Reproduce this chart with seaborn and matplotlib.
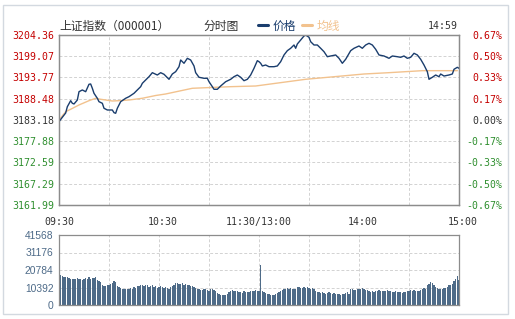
import matplotlib
matplotlib.use("Agg")
import matplotlib.pyplot as plt
import seaborn as sns
import pandas as pd
from matplotlib.patches import Rectangle
from matplotlib.transforms import ScaledTranslation

# ---------------- data ----------------
price_minute = [0, 2, 4, 5, 7, 8, 9, 11, 12, 14, 16, 18, 19, 20, 21, 23, 24, 26, 27, 29,
                32, 33, 34, 35, 37, 40, 42, 45, 47, 49, 50, 52, 54, 56, 59, 61, 63, 66, 68, 70,
                72, 73, 75, 77, 79, 81, 82, 84, 87, 89, 90, 92, 93, 95, 97, 100, 103, 105, 107, 109,
                111, 113, 115, 117, 119, 120, 121, 122, 124, 126, 129, 131, 133, 135, 137, 139, 141, 142, 143, 145,
                147, 148, 150, 151, 153, 155, 157, 159, 161, 163, 166, 168, 170, 172, 175, 177, 180, 182, 184, 186,
                188, 190, 192, 195, 198, 200, 203, 205, 207, 209, 211, 213, 215, 217, 219, 221, 222, 224, 226, 228,
                229, 231, 234, 236, 237, 239, 240]
price = [3182.76, 3183.85, 3184.92, 3186.49, 3187.99, 3187.34, 3187.17, 3188.16, 3190.23, 3190.66,
         3190.23, 3192.08, 3192.15, 3191.08, 3189.83, 3188.59, 3187.74, 3187.34, 3186.10, 3185.67,
         3185.67, 3185.00, 3184.85, 3186.10, 3187.74, 3188.59, 3188.99, 3189.83, 3190.66, 3191.48,
         3192.32, 3193.15, 3193.97, 3194.97, 3194.39, 3194.97, 3194.57, 3193.32, 3194.64, 3195.22,
         3196.46, 3198.13, 3197.31, 3198.55, 3198.13, 3196.64, 3194.97, 3193.82, 3193.57, 3193.57,
         3192.72, 3191.48, 3190.83, 3190.83, 3191.65, 3192.72, 3193.32, 3193.97, 3194.39, 3193.82,
         3192.97, 3193.32, 3194.39, 3196.06, 3197.96, 3197.71, 3197.31, 3196.64, 3196.88, 3196.46,
         3196.46, 3196.64, 3197.71, 3199.38, 3200.45, 3201.05, 3201.87, 3201.05, 3202.12, 3203.11,
         3204.11, 3204.36, 3203.79, 3202.69, 3201.87, 3201.87, 3201.05, 3200.20, 3198.95, 3199.13,
         3199.38, 3198.55, 3197.31, 3198.31, 3200.45, 3201.05, 3201.62, 3201.05, 3201.87, 3202.29,
         3201.87, 3200.80, 3199.38, 3199.13, 3198.55, 3199.13, 3198.95, 3198.80, 3199.13, 3198.55,
         3198.80, 3199.80, 3199.38, 3198.31, 3196.88, 3195.22, 3193.32, 3193.82, 3194.39, 3193.97,
         3194.64, 3194.14, 3194.39, 3194.64, 3195.81, 3196.31, 3196.06]

avg_minute = [0, 4, 7, 12, 18, 22, 25, 28, 32, 36, 42, 50, 58, 64, 80, 103, 118, 148, 183, 198, 218, 239]
avg_price = [3183.18, 3185.25, 3185.85, 3186.92, 3187.99, 3188.59, 3188.34, 3188.16, 3187.91, 3187.99,
             3188.16, 3188.59, 3189.28, 3189.66, 3191.08, 3191.48, 3191.65, 3193.32, 3194.64, 3194.97,
             3195.47, 3195.47]

volume = [18000, 17200, 16400, 16800, 16600, 16000, 15600, 15600, 15200, 15600,
          16000, 15200, 15600, 14700, 15600, 16000, 15600, 16400, 15200, 16200,
          16000, 16400, 15000, 14000,
          13700, 11700, 11300, 11300, 12100, 12100, 12700, 13300, 14100, 13700,
          11300, 10700, 10100, 9700, 9300, 9700, 9300, 9700, 10100, 9700, 10700, 10100, 11300, 11300,
          11700, 12100, 11300, 11700, 12100, 10700, 11300, 11700, 10700, 11300,
          10100, 10700, 11300, 10700, 10100, 10500, 10100, 9700, 10700, 11300,
          12100, 13300, 13300, 12700, 12700, 13300, 12100, 12700, 11700, 11700, 11300, 11300, 10500, 10100,
          9700, 9300, 8700, 8700, 9300, 9700, 8700, 8100, 9700, 9300, 8700, 8100,
          7300, 6700, 6100, 6100, 6100, 6100, 6700, 7700, 8100, 8700, 8500, 8100,
          8100, 7700, 7700, 7300, 8100, 7700, 7700, 7700, 8100, 8100, 8500, 8700, 8100, 8100,
          23800,
          8100, 7700, 7300, 6700, 6700, 6100, 5700, 6100, 6700, 7300, 7700,
          8100, 8700, 9300, 9700, 10100, 9700, 10100, 9700, 9300, 9300, 10500, 10700, 10100, 10100,
          10700, 10100, 10700, 10100, 9700, 10100,
          9300, 8100, 7700, 7700, 7300, 7700, 7300, 6700, 7300, 7700, 7300, 6700, 7300, 6700, 6700,
          6500, 6100, 6700, 6500, 7300, 7700, 6700,
          9700, 9300, 8700, 8700, 9300, 9700, 9700, 10100, 9300, 8700, 8700, 8100, 7700, 8100, 7700, 8500,
          8100, 8700, 8500, 8100, 8500, 8100, 8700, 8100, 8100, 7700, 7700, 8100, 7700, 7700, 7700,
          7300, 7700, 7700, 8100, 8100, 8700, 8100,
          8700, 8100, 8500, 8100, 8700, 9300, 10100, 9700,
          11700, 12700, 13700, 13300, 11700, 10700, 10100, 9300,
          9700, 9700, 10100, 10100, 10700, 11700, 12100, 12700, 14100, 15600, 17200, 14700]
vol_minute = list(range(1, len(volume) + 1))

price_ticks = [3204.36, 3199.07, 3193.77, 3188.48, 3183.18, 3177.88, 3172.59, 3167.29, 3161.99]
price_labels = ["3204.36", "3199.07", "3193.77", "3188.48", "3183.18", "3177.88", "3172.59", "3167.29", "3161.99"]
pct_labels = ["0.67%", "0.50%", "0.33%", "0.17%", "0.00%", "-0.17%", "-0.33%", "-0.50%", "-0.67%"]
time_ticks = [0, 60, 120, 180, 240]
time_labels = ["09:30", "10:30", "11:30/13:00", "14:00", "15:00"]
vol_ticks = [0, 10392, 20784, 31176, 41568]
vol_labels = ["0", "10392", "20784", "31176", "41568"]

# ---------------- style ----------------
sns.set_theme(style="white")
plt.rcParams["font.family"] = ["Noto Sans CJK SC", "DejaVu Sans"]

RED = "#c40000"
GREEN = "#2f8f2f"
DARK = "#333333"
PRICE_C = "#1a3d6d"
AVG_C = "#f2c28e"
VOL_C = "#4e6b88"
SPINE_C = "#8c8c8c"
GRID_C = "#d2d2d2"
MONO = ["DejaVu Sans Mono"]
CJK = ["Noto Sans CJK SC", "DejaVu Sans"]

fig = plt.figure(figsize=(5.15, 3.19), dpi=100)
W, H = 515, 319
ax = fig.add_axes([59 / W, 1 - 205 / H, 400 / W, 170 / H])
axv = fig.add_axes([59 / W, 1 - 305 / H, 400 / W, 70 / H])

df_p = pd.DataFrame({"minute": price_minute, "price": price})
df_a = pd.DataFrame({"minute": avg_minute, "price": avg_price})
df_v = pd.DataFrame({"minute": vol_minute, "volume": volume})

sns.lineplot(data=df_a, x="minute", y="price", color=AVG_C, lw=1.0, ax=ax, label="均线", zorder=3)
sns.lineplot(data=df_p, x="minute", y="price", color=PRICE_C, lw=1.0, ax=ax, label="价格", zorder=4)

sns.barplot(data=df_v, x="minute", y="volume", native_scale=True, color=VOL_C,
            saturation=1, width=0.68, linewidth=0, ax=axv)

dash = (0, (3, 2))
for a in (ax, axv):
    a.set_xlim(0, 240)
    a.set_xticks(list(range(0, 241, 30)), minor=True)
    a.grid(True, which="minor", axis="x", color=GRID_C, linestyle=dash, linewidth=0.7)
    a.grid(True, which="major", axis="y", color=GRID_C, linestyle=dash, linewidth=0.7)
    a.set_axisbelow(True)
    a.set_xlabel("")
    a.set_ylabel("")
    for s in a.spines.values():
        s.set_color(SPINE_C)
        s.set_linewidth(0.9)
    a.tick_params(which="both", length=0)

# main price axis
ax.set_ylim(3161.99, 3204.36)
ax.set_yticks(price_ticks)
ax.set_yticklabels(price_labels, family=MONO, fontsize=7.1)
ax.tick_params(axis="y", pad=3.5)
colors = [RED] * 4 + [DARK] + [GREEN] * 4
for lbl, c in zip(ax.get_yticklabels(), colors):
    lbl.set_color(c)
ax.set_xticks(time_ticks)
ax.set_xticklabels(time_labels, family=MONO, fontsize=7.1, color=DARK)
ax.tick_params(axis="x", pad=8.5)
for i in (1, 3, 4):
    lb = ax.get_xticklabels()[i]
    lb.set_transform(lb.get_transform() + ScaledTranslation(4 / 100, 0, fig.dpi_scale_trans))

axr = ax.twinx()
axr.set_ylim(3161.99, 3204.36)
axr.set_yticks(price_ticks)
axr.set_yticklabels(pct_labels, family=MONO, fontsize=7.1)
axr.tick_params(axis="y", length=0, pad=31.5)
for lbl, c in zip(axr.get_yticklabels(), colors):
    lbl.set_color(c)
    lbl.set_horizontalalignment("right")
for s in axr.spines.values():
    s.set_color(SPINE_C)
    s.set_linewidth(0.9)
axr.grid(False)

# legend (价格 first, then 均线)
h, l = ax.get_legend_handles_labels()
order = [l.index("价格"), l.index("均线")]
leg = ax.legend([h[i] for i in order], [l[i] for i in order],
                loc="center left", bbox_to_anchor=((258 - 59) / 400, (205 - 26) / 170),
                ncol=2, frameon=False, borderaxespad=0, borderpad=0,
                handlelength=0.85, handletextpad=0.35, columnspacing=0.55,
                prop={"family": CJK, "size": 8.5})
for t, c in zip(leg.get_texts(), [PRICE_C, AVG_C]):
    t.set_color(c)
for hl in leg.legend_handles:
    hl.set_linewidth(2.2)

# volume axis
axv.set_ylim(0, 41568)
axv.set_yticks(vol_ticks)
axv.set_yticklabels(vol_labels, family=["Liberation Sans"], fontsize=7.4, color="#4d6a88")
axv.tick_params(axis="y", pad=4)
axv.set_xticks([])
axv.set_xticks(list(range(0, 241, 30)), minor=True)
axv.tick_params(which="both", labelbottom=False, length=0)

# header texts
ty = 1 - 26 / H
fig.text(59 / W, ty, "上证指数（000001）", ha="left", va="center", fontsize=8.5, color=DARK)
fig.text(221 / W, ty, "分时图", ha="center", va="center", fontsize=8.5, color=DARK)
fig.text(458 / W, ty, "14:59", ha="right", va="center", fontsize=7.1, color=DARK, family=MONO)

# outer frame
fig.add_artist(Rectangle((3 / W, 1 - 314 / H), 505 / W, 309 / H, transform=fig.transFigure,
                         fill=False, edgecolor="#d3d9e0", lw=1))

fig.savefig("out.png", dpi=100, facecolor="white")
